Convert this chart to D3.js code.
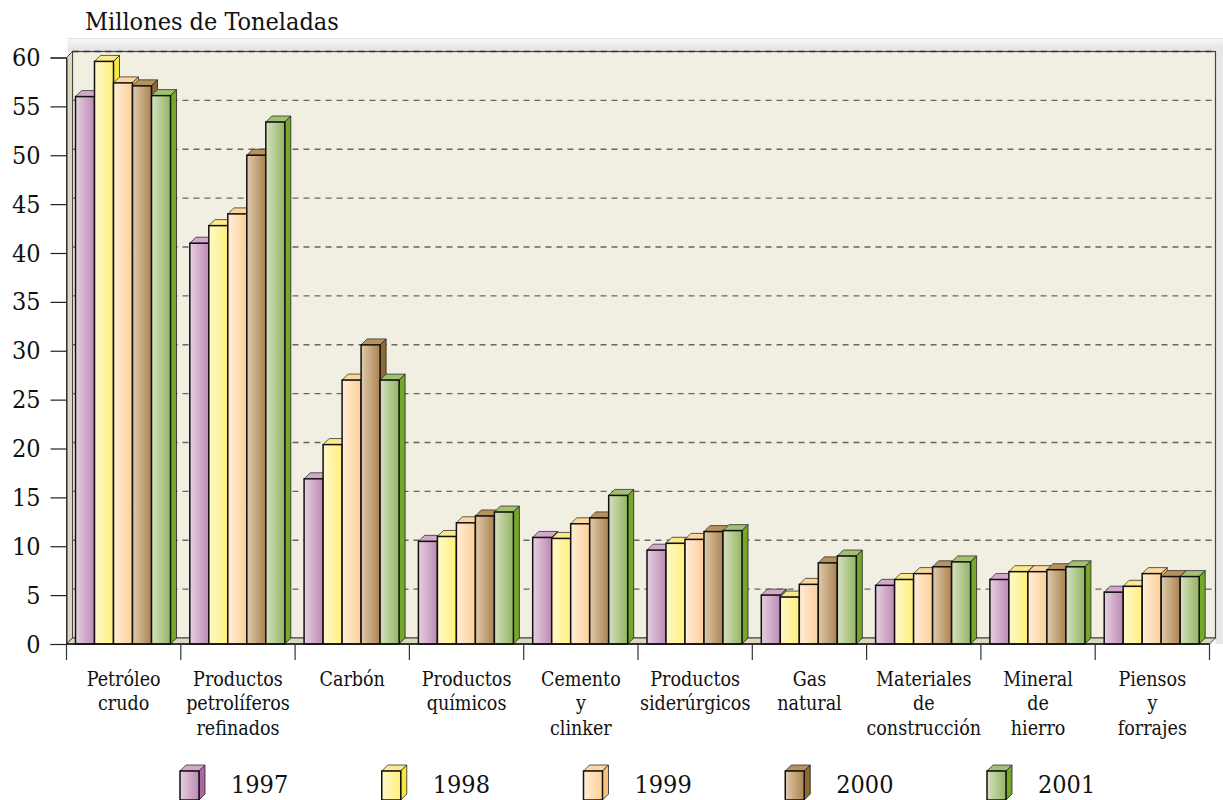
<!DOCTYPE html>
<html>
<head>
<meta charset="utf-8">
<script src="https://cdn.jsdelivr.net/npm/d3@7"></script>
<style>
  html, body { margin: 0; background: #fff; overflow: hidden; }
  text { font-family: "DejaVu Serif Condensed", "DejaVu Serif", serif; fill: #111; }
</style>
</head>
<body>
<div id="container"></div>
<script>
// DATA
const categories = [
  ["Petróleo", "crudo"],
  ["Productos", "petrolíferos", "refinados"],
  ["Carbón"],
  ["Productos", "químicos"],
  ["Cemento", "y", "clinker"],
  ["Productos", "siderúrgicos"],
  ["Gas", "natural"],
  ["Materiales", "de", "construcción"],
  ["Mineral", "de", "hierro"],
  ["Piensos", "y", "forrajes"]
];
const years = ["1997", "1998", "1999", "2000", "2001"];
const v1997 = [56, 41, 16.9, 10.5, 10.9, 9.6, 5, 6, 6.6, 5.3];
const v1998 = [59.6, 42.8, 20.4, 11, 10.8, 10.3, 4.8, 6.6, 7.4, 5.9];
const v1999 = [57.4, 44, 27, 12.4, 12.3, 10.7, 6.1, 7.2, 7.4, 7.2];
const v2000 = [57.1, 50, 30.6, 13.1, 12.9, 11.5, 8.3, 7.9, 7.6, 6.9];
const v2001 = [56.1, 53.4, 27, 13.5, 15.2, 11.6, 9, 8.4, 7.9, 6.9];
const series = [v1997, v1998, v1999, v2000, v2001];
const yTicks = d3.range(0, 65, 5);

// colours per year: gradient left, gradient right, top face, side face
const colLeft = ["#e6cfe2", "#fff8cc", "#ffeeda", "#dfcbac", "#d6e0c0"];
const colRight = ["#bd8ab2", "#fff07a", "#fdcf96", "#ab8250", "#93b562"];
const colTop = ["#d3a8ca", "#fbe98a", "#fdd79e", "#b8925c", "#a3bf72"];
const colSide = ["#a9699c", "#f7e83e", "#f8c27c", "#8c6a32", "#76a62c"];

const width = 1223, height = 800;
const plotLeft = 66.5, plotRight = 1209.5, plotBottom = 644, plotTop = 57.5;
const depth = 6;

const svg = d3.select("#container").append("svg")
  .attr("width", width).attr("height", height);

const defs = svg.append("defs");
years.forEach((yr, i) => {
  const g = defs.append("linearGradient").attr("id", "g" + yr);
  g.append("stop").attr("offset", "0%").attr("stop-color", colLeft[i]);
  g.append("stop").attr("offset", "100%").attr("stop-color", colRight[i]);
});
const bandGrad = defs.append("linearGradient").attr("id", "bandTop")
  .attr("x1", 0).attr("x2", 0).attr("y1", 0).attr("y2", 1);
bandGrad.append("stop").attr("offset", "0%").attr("stop-color", "#f8f8f8");
bandGrad.append("stop").attr("offset", "100%").attr("stop-color", "#e0e0e0");

const y = d3.scaleLinear().domain([0, 60]).range([plotBottom, plotTop]);
const x0 = d3.scaleBand().domain(categories.map((c, i) => i)).range([plotLeft, plotRight]);
const x1 = d3.scaleBand().domain(years).range([9, 104]);

// grey shadow round the wall
svg.append("rect").attr("x", plotLeft + 1).attr("y", 38)
  .attr("width", width - plotLeft).attr("height", 14).attr("fill", "url(#bandTop)");
svg.append("line").attr("x1", plotLeft + 1).attr("x2", width).attr("y1", 38.5).attr("y2", 38.5)
  .attr("stroke", "#e2e2e2");
svg.append("rect").attr("x", plotRight + depth).attr("y", 45)
  .attr("width", width - plotRight - depth).attr("height", plotBottom - 45).attr("fill", "#e8e8e8");

// back wall, left wall, floor
svg.append("rect").attr("x", plotLeft + depth).attr("y", plotTop - depth)
  .attr("width", plotRight - plotLeft).attr("height", plotBottom - plotTop)
  .attr("fill", "#f1efe2").attr("stroke", "#444").attr("stroke-width", 1.2);
svg.append("polygon")
  .attr("points", [[plotLeft, plotTop], [plotLeft + depth, plotTop - depth], [plotLeft + depth, plotBottom - depth], [plotLeft, plotBottom]].join(" "))
  .attr("fill", "#dcd8c0").attr("stroke", "#444");
svg.append("polygon")
  .attr("points", [[plotLeft, plotBottom], [plotLeft + depth, plotBottom - depth], [plotRight + depth, plotBottom - depth], [plotRight, plotBottom]].join(" "))
  .attr("fill", "#dcd8c0").attr("stroke", "#444");

// grid on the wall
svg.append("g").selectAll("line").data(yTicks.filter(d => d > 0)).join("line")
  .attr("x1", plotLeft + depth).attr("x2", plotRight + depth)
  .attr("y1", d => y(d) - depth).attr("y2", d => y(d) - depth)
  .attr("stroke", d => d === 60 ? "#333" : "#666")
  .attr("stroke-width", 1.3)
  .attr("stroke-dasharray", "6,5");

// bars
function box(g, xa, w, y0, y1, i) {
  g.append("polygon")
    .attr("points", [[xa, y1], [xa + depth, y1 - depth], [xa + w + depth, y1 - depth], [xa + w, y1]].join(" "))
    .attr("fill", colTop[i]).attr("stroke", "#333").attr("stroke-width", 0.8);
  g.append("polygon")
    .attr("points", [[xa + w, y1], [xa + w + depth, y1 - depth], [xa + w + depth, y0 - depth], [xa + w, y0]].join(" "))
    .attr("fill", colSide[i]).attr("stroke", "#222").attr("stroke-width", 0.8);
  g.append("rect").attr("x", xa).attr("y", y1).attr("width", w).attr("height", y0 - y1)
    .attr("fill", `url(#g${years[i]})`).attr("stroke", "#111").attr("stroke-width", 1.5);
}
categories.forEach((c, ci) => {
  const g = svg.append("g");
  // left to right, each front face covers the neighbour's side face
  years.forEach((yr, si) => {
    box(g, x0(ci) + x1(yr), x1.bandwidth(), y(0), y(series[si][ci]), si);
  });
});

// axes
const yAxis = svg.append("g").attr("transform", `translate(${plotLeft},0)`)
  .call(d3.axisLeft(y).tickValues(yTicks).tickSize(16).tickPadding(10));
yAxis.select(".domain").attr("stroke", "#222");
yAxis.selectAll(".tick line").attr("stroke", "#222").attr("stroke-width", 1.2);
yAxis.selectAll("text").attr("font-size", 25).attr("font-family", "DejaVu Serif Condensed");

svg.append("line").attr("x1", plotLeft).attr("x2", plotRight).attr("y1", plotBottom).attr("y2", plotBottom)
  .attr("stroke", "#111").attr("stroke-width", 1.4);
svg.append("g").selectAll("line").data(d3.range(categories.length + 1)).join("line")
  .attr("x1", i => plotLeft + i * x0.bandwidth()).attr("x2", i => plotLeft + i * x0.bandwidth())
  .attr("y1", plotBottom).attr("y2", 660).attr("stroke", "#333").attr("stroke-width", 1.2);

// category labels
categories.forEach((lines, i) => {
  const t = svg.append("text").attr("text-anchor", "middle").attr("font-size", 19.5);
  lines.forEach((s, k) => {
    t.append("tspan").attr("x", x0(i) + x0.bandwidth() / 2).attr("y", 686 + k * 24.4).text(s);
  });
});

// title
svg.append("text").attr("x", 85).attr("y", 30).attr("font-size", 25).text("Millones de Toneladas");

// legend
const legendX = d3.scalePoint().domain(years).range([180, 987]);
years.forEach((yr, i) => {
  const g = svg.append("g");
  box(g, legendX(yr), 19, 800, 771, i);
  g.append("text").attr("x", legendX(yr) + 51).attr("y", 793).attr("font-size", 25).text(yr);
});
</script>
</body>
</html>
